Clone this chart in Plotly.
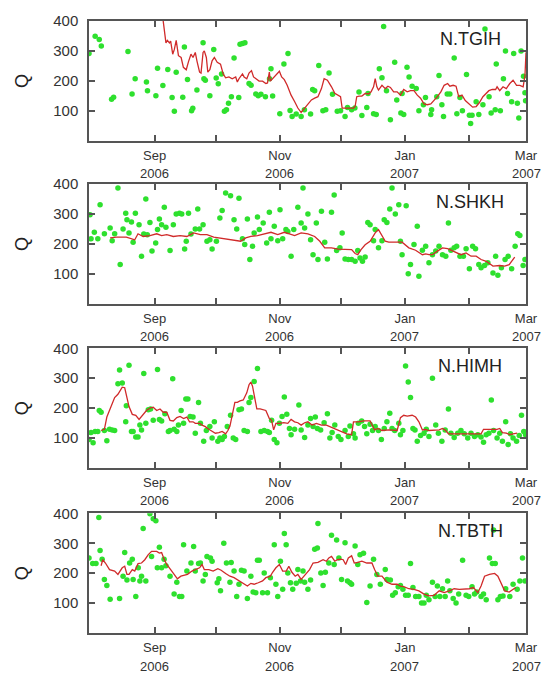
import pandas as pd
import plotly.graph_objects as go
from plotly.subplots import make_subplots

START = "2006-07-31"
END = "2007-03-01"
stations = ["N.TGIH", "N.SHKH", "N.HIMH", "N.TBTH"]

# ---------- panel 1: N.TGIH  (days since 2006-07-31, Q) ----------
d1 = [0, 3, 5, 6, 11, 12, 19, 21, 22.5, 28,
      28.5, 32.6, 33.4, 36, 38.4, 40.5, 41.6, 42.5, 45.7, 46.5,
      48, 50, 50.6, 52.6, 55.6, 56, 56.7, 58.9, 60.8, 62,
      63, 64.6, 66, 67, 68, 69.4, 70.7, 73, 73.6, 74.8,
      76, 78, 79, 81.3, 82.5, 83.8, 86, 88, 88.7, 89.5,
      93, 95, 97, 98, 99, 101, 103.4, 105, 108, 109,
      110, 112, 114, 115.4, 117, 118.7, 121, 122.6, 124.8, 126,
      128, 129.6, 131.6, 133, 135.4, 136, 138.7, 140, 141.5, 142.8,
      143.6, 145, 146.9, 149, 150, 152, 152.6, 153.4, 155, 156,
      157.5, 159.5, 160.8, 163, 164, 166.6, 167, 169.5, 170.6, 172,
      172.8, 174.6, 175.9, 178, 179.3, 180.8, 182, 184, 185.4, 186,
      186.7, 188.7, 190, 192, 193, 195, 196, 198, 198.5, 200.5,
      202, 203, 204, 206, 207, 208.8, 209.5, 210.6, 211.8, 212.5,
      212.8]
q1 = [291, 349, 338, 316, 138, 145, 298, 156, 207, 196,
      167, 150, 242, 184, 238, 144, 98, 229, 145, 313,
      204, 100, 108, 169, 327, 207, 202, 150, 305, 209,
      190, 223, 98, 103, 125, 147, 276, 144, 322, 325,
      327, 191, 185, 156, 150, 155, 147, 207, 240, 149,
      90, 256, 291, 101, 81, 89, 81, 103, 89, 171,
      167, 251, 100, 103, 226, 155, 98, 100, 81, 111,
      103, 109, 163, 84, 111, 158, 90, 87, 240, 210,
      382, 167, 70, 262, 136, 92, 158, 87, 245, 213,
      182, 174, 100, 120, 144, 87, 103, 147, 218, 120,
      81, 156, 156, 276, 90, 144, 100, 221, 85, 57,
      85, 130, 87, 120, 373, 147, 92, 103, 256, 100,
      207, 300, 158, 130, 291, 125, 76, 300, 215, 160,
      133]
L1d = [36, 37.5, 38.2, 39.2, 39.8, 40.8, 41.6, 42.5, 43.6, 44.9,
       46, 47.4, 48.5, 49.7, 50.7, 51.8, 52.6, 53.9, 54.6, 55.6,
       56.2, 57.2, 57.9, 58.9, 60, 61.1, 62.5, 64.1, 65.4, 66.6,
       68.2, 69.8, 71.5, 72.3, 73.1, 74.8, 75.6, 76.9, 78, 79.2,
       80.2, 81.3, 82.9, 84.6, 86.2, 87, 87.9, 88.4, 89.5, 91.1,
       92.8, 93.9, 95.2, 96.6, 98.5, 100.2, 101.8, 103.4, 105.1, 106.7,
       108.4, 110, 111.6, 113.3, 114.6, 116.2, 117.4, 118.2, 119.8, 121.5,
       122.6, 123.4, 124.8, 126.4, 128.9, 129.7, 130.5, 131.6, 133, 134.6,
       136.2, 137.5, 138.7, 139.5, 140.3, 141.1, 142.8, 144.4, 145.7, 146.9,
       148.5, 150.2, 151.8, 153.4, 155.1, 156.7, 158.4, 160, 161.6, 163.3,
       164.9, 166.6, 168.2, 169.8, 171.5, 173.1, 174.8, 175.9, 177.5, 178.9,
       180.2, 181.8, 183.4, 185.4, 187, 188.7, 190.3, 192, 193.6, 194.9,
       196.6, 198.2, 198.9, 200.2, 201.8, 203.4, 205.1, 206.7, 208.4, 210,
       211.6, 212.5, 213]
L1q = [409, 327, 335, 327, 333, 289, 305, 335, 284, 278,
       245, 237, 264, 289, 278, 295, 267, 229, 226, 295,
       300, 278, 229, 237, 267, 278, 262, 256, 223, 210,
       213, 207, 213, 196, 207, 223, 213, 207, 226, 234,
       213, 207, 199, 199, 191, 193, 229, 199, 207, 221,
       232, 213, 204, 185, 152, 131, 109, 94, 109, 123,
       136, 142, 147, 174, 207, 202, 191, 180, 158, 152,
       147, 109, 109, 109, 109, 114, 147, 149, 149, 158,
       156, 163, 180, 207, 180, 169, 185, 174, 182, 178,
       163, 163, 152, 171, 163, 167, 167, 152, 142, 123,
       120, 123, 134, 147, 163, 185, 191, 182, 185, 182,
       147, 152, 134, 120, 112, 114, 127, 147, 160, 167,
       171, 171, 180, 167, 180, 174, 191, 202, 185, 185,
       180, 218, 295]

# ---------- panel 2: N.SHKH ----------
d2 = [0.5, 1, 2.6, 4.3, 5.4, 7.5, 10.3, 11.3, 12.5, 14.1,
      15.2, 16.6, 17.9, 18.5, 19.5, 20.7, 21.5, 22.6, 24.4, 25.6,
      26.7, 27.7, 28.4, 29.7, 30.7, 32.5, 33.4, 34.3, 35.4, 36.7,
      37.5, 39.5, 41.1, 42.5, 44.1, 45.2, 46.6, 47.4, 48.5, 49.7,
      51.8, 53, 53.9, 55.6, 57.5, 58.9, 60, 62.1, 63.8, 64.9,
      66.6, 69, 70.7, 72, 73.1, 74.8, 75.9, 77.2, 78.4, 79.7,
      80.5, 82.1, 83, 84.9, 86.6, 87.9, 88.7, 90.3, 92, 93.1,
      94.4, 96, 96.9, 98.5, 99.8, 101.8, 103.4, 104.3, 105.1, 106.7,
      108, 109.2, 110.8, 111.6, 113.3, 114.9, 116.2, 118.2, 119.5, 120.7,
      122.3, 123.4, 124.8, 126.4, 128, 129.7, 131, 132.1, 133.3, 134.6,
      135.9, 137, 138.7, 139.5, 141.1, 142.8, 143.9, 145.2, 146.6, 147.7,
      149.3, 151, 151.8, 152.6, 154.6, 155.6, 156.7, 158.4, 160, 160.8,
      162.5, 164.1, 165.7, 167.4, 169, 170.6, 172.3, 173.9, 175.2, 176.4,
      178, 179.2, 180.8, 182.5, 183.8, 185.4, 187, 188.4, 190, 191.1,
      192.8, 194.4, 196.9, 198.2, 199.3, 201, 202.8, 204.3, 206, 207.7,
      209, 210, 211.6, 212.5]
q2 = [298, 217, 239, 217, 331, 234, 253, 211, 234, 387,
      131, 250, 303, 281, 237, 273, 206, 303, 264, 159,
      233, 350, 231, 272, 176, 203, 248, 283, 264, 323,
      256, 178, 264, 300, 303, 300, 183, 209, 303, 233,
      250, 317, 250, 264, 209, 214, 183, 209, 287, 312,
      370, 361, 281, 250, 353, 217, 198, 283, 148, 192,
      237, 290, 248, 270, 203, 306, 217, 259, 211, 314,
      217, 248, 242, 159, 248, 323, 270, 387, 253, 300,
      214, 164, 270, 148, 309, 206, 150, 306, 364, 178,
      187, 237, 150, 148, 148, 142, 178, 153, 142, 156,
      272, 264, 211, 248, 187, 211, 281, 272, 317, 387,
      300, 331, 209, 164, 328, 100, 131, 198, 259, 92,
      179, 192, 137, 164, 176, 192, 164, 159, 270, 179,
      187, 192, 159, 159, 184, 117, 192, 184, 131, 120,
      128, 137, 103, 159, 95, 120, 148, 159, 117, 192,
      234, 228, 128, 148]
L2d = [10.3, 13.3, 18.2, 22.3, 23.9, 26.4, 29.7, 33, 35.4, 37.9,
       41.1, 44.4, 47.7, 51, 54.3, 57.5, 60.8, 64.1, 69, 73.9,
       76.4, 78.9, 82.1, 85.4, 88.7, 92, 95.2, 97.7, 100.2, 103.4,
       106.7, 110, 112.5, 114.9, 118.2, 121.5, 124.8, 128, 129.7, 131,
       132.6, 134.6, 137, 139.5, 141.1, 142.8, 144.4, 146.1, 149.3, 152.6,
       155.9, 159.2, 162.5, 164.1, 165.7, 167.4, 169.8, 172.3, 174.8, 177.2,
       178.9, 181.3, 183.8, 186.2, 188.7, 191.1, 193.6, 196.9, 200.2, 202.6,
       204.8, 205.9, 207.5]
L2q = [220, 223, 223, 214, 234, 225, 228, 234, 228, 231,
       225, 228, 225, 237, 231, 231, 223, 220, 214, 209,
       220, 225, 228, 234, 239, 231, 239, 234, 228, 237,
       234, 225, 209, 187, 187, 183, 181, 181, 168, 164,
       181, 197, 209, 237, 248, 228, 209, 206, 206, 206,
       187, 179, 164, 167, 164, 164, 176, 187, 184, 176,
       173, 164, 170, 159, 159, 148, 142, 126, 128, 126,
       131, 142, 156]

# ---------- panel 3: N.HIMH ----------
d3 = [0, 1, 2, 3, 4.3, 5, 5.9, 7.5, 8.7, 10,
      11.3, 12.5, 14.1, 14.9, 16.2, 17.9, 18.2, 19.5, 20.7, 21.5,
      22.8, 23.9, 24.8, 25.6, 26.7, 27.7, 28.9, 30, 31.3, 33.4,
      34.3, 35.4, 37, 38.7, 39.5, 40.8, 41.5, 42.8, 43.6, 44.9,
      46.1, 47.2, 48.2, 49.3, 50.7, 51.8, 53.4, 54.3, 55.9, 57.2,
      58.9, 60, 61.1, 62.8, 63.8, 64.9, 66, 67.4, 69, 70.3,
      71.5, 73.1, 74.3, 75.6, 77.2, 78, 78.9, 80.5, 82.1, 83.8,
      85.4, 87, 87.9, 89, 90.3, 91.6, 92.8, 94.1, 95.2, 96.4,
      97.7, 98.5, 100.2, 102.3, 103.4, 105.1, 106.7, 108, 109.2, 110.3,
      111.3, 112.9, 114.6, 116.2, 117.4, 118.5, 119.8, 121.5, 122.8, 124.8,
      126.4, 127.2, 128.9, 129.7, 131.3, 132.9, 134.3, 135.4, 137, 138.2,
      139.5, 141.1, 142.5, 143.9, 145.2, 146.6, 147.7, 149, 151, 151.8,
      153, 154.3, 155.6, 156.7, 157.9, 158.9, 160, 161.6, 163.3, 164.4,
      165.7, 167.4, 169, 170.3, 172, 173.6, 175.2, 176.4, 178, 179.7,
      181.3, 182.9, 184.6, 186.2, 187.9, 189.5, 191.1, 192.3, 193.6, 194.9,
      196.1, 197.2, 198.9, 200.2, 201.5, 203.1, 204.3, 205.4, 206.7, 208.4,
      209.7, 210.8, 211.9, 212.8]
q3 = [95, 118, 84, 122, 122, 192, 186, 125, 91, 129,
      127, 125, 281, 327, 284, 154, 208, 343, 122, 122,
      103, 103, 143, 127, 316, 149, 194, 197, 159, 329,
      162, 157, 181, 122, 125, 298, 129, 122, 143, 192,
      149, 230, 230, 172, 170, 116, 219, 149, 89, 125,
      138, 100, 154, 89, 100, 95, 105, 138, 176, 100,
      95, 194, 197, 125, 122, 219, 235, 289, 332, 122,
      125, 122, 118, 159, 95, 84, 149, 172, 237, 179,
      132, 111, 129, 210, 127, 102, 143, 165, 138, 170,
      132, 127, 151, 181, 100, 118, 143, 105, 95, 125,
      105, 140, 114, 100, 149, 157, 138, 114, 146, 125,
      138, 125, 95, 132, 154, 183, 132, 125, 149, 111,
      125, 341, 287, 235, 132, 127, 89, 108, 116, 129,
      105, 300, 143, 116, 89, 127, 197, 116, 102, 116,
      125, 114, 100, 116, 105, 111, 103, 86, 111, 116,
      227, 125, 100, 116, 89, 154, 78, 114, 100, 89,
      108, 176, 122, 111]
L3d = [5.9, 7.5, 8.7, 10.8, 12.5, 14.1, 14.9, 16.2, 17.4, 18.2,
       19.5, 21.1, 22.8, 24.4, 26.1, 28, 29.7, 31.3, 33, 34.6,
       36.2, 37.9, 39.5, 41.1, 42.8, 44.4, 46.1, 47.7, 49, 50.7,
       51.8, 53.9, 55.1, 56.7, 58.4, 60, 61.6, 63.3, 64.9, 66.6,
       67.7, 68.7, 69.8, 71.1, 72.3, 73.6, 75.2, 76.9, 78, 78.9,
       79.7, 80.8, 81.8, 83.4, 85.1, 86.2, 87.9, 89, 90, 91.1,
       92.8, 94.9, 96.9, 98.5, 100.2, 101.8, 103.4, 105.1, 106.7, 108.7,
       110.8, 113.3, 115.7, 118.2, 120.7, 123.1, 125.6, 128, 128.9, 131.3,
       133.8, 137, 139.2, 140.8, 142.8, 146.1, 148.5, 150.2, 151.8, 153.4,
       155.1, 157.5, 159.2, 160.8, 162.5, 164.1, 165.7, 168.2, 170.7, 172.3,
       173.9, 175.2, 177.2, 179.7, 182.1, 185.4, 188.7, 191.1, 192.3, 194.4,
       196.9, 198.9, 200.2, 201.5, 203.4, 205.1, 206.7, 208.7]
L3q = [125, 129, 170, 208, 235, 246, 257, 270, 268, 246,
       205, 179, 176, 162, 176, 192, 200, 203, 192, 197,
       186, 186, 159, 157, 168, 172, 165, 170, 154, 154,
       149, 149, 143, 138, 129, 122, 116, 118, 122, 114,
       125, 140, 176, 219, 219, 224, 227, 251, 278, 287,
       273, 235, 197, 197, 194, 192, 165, 159, 127, 149,
       149, 151, 149, 162, 154, 151, 143, 151, 154, 143,
       149, 143, 143, 136, 127, 122, 114, 111, 154, 154,
       157, 157, 127, 132, 125, 127, 125, 125, 168, 176,
       173, 176, 170, 154, 127, 129, 125, 127, 127, 132,
       125, 114, 114, 116, 116, 116, 114, 114, 129, 129,
       129, 129, 132, 118, 116, 111, 114, 116]

# ---------- panel 4: N.TBTH ----------
d4 = [0, 1.8, 3.4, 4.8, 5.4, 6.4, 7.5, 8.7, 10.3, 14.9,
      16.6, 17.4, 18.5, 19.8, 21.1, 21.5, 22.8, 24, 24.8, 25.6,
      26.4, 27.7, 29.7, 30.5, 31.3, 32.6, 33.3, 34.3, 35.4, 36.6,
      37.5, 39.5, 41.5, 42.8, 44.1, 45.2, 46.1, 47.7, 49.7, 51,
      51.8, 53.4, 54.3, 55.6, 56.7, 57.5, 59.2, 60, 62.5, 63.3,
      64.1, 65.7, 67, 68.7, 69.3, 70.7, 72, 73.1, 74.3, 75.6,
      77.2, 78.9, 80, 81.3, 82.1, 83, 84.6, 85.4, 87, 88.4,
      90.3, 91.1, 92, 93.3, 94.4, 95.2, 96.1, 96.9, 98.2, 99.3,
      101, 101.8, 103.1, 104.3, 105.1, 106.7, 108, 110, 111.3, 111.6,
      113, 114.1, 115.2, 116.9, 118.2, 119.5, 120.7, 121.8, 123.1, 124.8,
      126, 127.2, 128, 129.7, 131, 132.1, 133.8, 135.4, 137, 138.7,
      140.3, 142, 144.4, 145.2, 146.9, 148, 149.3, 150.7, 151.8, 153,
      154.3, 155.6, 156.7, 157.9, 159.2, 160.8, 162.1, 163.3, 164.4, 165.7,
      167.4, 168.7, 169.8, 171, 172.3, 173.6, 174.8, 175.9, 177.5, 178.9,
      180.2, 182.1, 183.8, 185.1, 186.7, 187.9, 189, 191.1, 192.3, 193.6,
      195.2, 196.6, 197.2, 198, 199.3, 200.5, 201.8, 203.1, 205.1, 206.7,
      208.7, 210, 211.3, 212.5]
q4 = [251, 232, 232, 386, 276, 247, 179, 159, 113, 115,
      190, 269, 177, 234, 247, 179, 122, 218, 174, 190,
      349, 174, 399, 256, 382, 375, 218, 287, 218, 247,
      225, 190, 130, 170, 122, 122, 295, 207, 234, 289,
      207, 232, 234, 174, 196, 256, 251, 240, 168, 181,
      141, 300, 234, 170, 236, 207, 122, 163, 210, 207,
      115, 190, 137, 135, 243, 243, 135, 201, 135, 185,
      295, 163, 122, 240, 146, 333, 295, 201, 168, 146,
      166, 212, 174, 207, 170, 146, 177, 280, 284, 366,
      201, 159, 203, 234, 327, 229, 311, 251, 179, 302,
      174, 168, 163, 291, 229, 262, 267, 102, 157, 247,
      196, 163, 212, 179, 177, 126, 135, 155, 159, 146,
      126, 126, 232, 152, 122, 122, 100, 100, 126, 111,
      170, 122, 157, 122, 148, 122, 174, 141, 115, 100,
      130, 243, 126, 122, 155, 130, 137, 122, 130, 111,
      251, 232, 344, 232, 111, 122, 124, 148, 122, 163,
      146, 174, 251, 174]
L4d = [5.9, 6.7, 8, 10, 12.5, 14.1, 16.2, 17.4, 18.5, 19.5,
       21.1, 22.3, 23.9, 25.6, 27.2, 28.9, 30.5, 33, 34.3, 35.4,
       36.6, 37.9, 39.8, 41.5, 43.1, 44.8, 46.4, 48, 50.2, 52.3,
       53.9, 55.1, 56.2, 58.4, 60.5, 62.8, 64.4, 66.6, 68.7, 70.7,
       73.1, 75.2, 77.2, 78.9, 80.5, 82.5, 84.6, 86.2, 88.4, 89.5,
       91.1, 92.8, 94.4, 96.1, 97.4, 98.9, 100.5, 101.8, 103.4, 104.8,
       105.9, 107.5, 109.2, 111.6, 114.1, 115.7, 116.9, 118.2, 119.8, 121.1,
       122.8, 123.9, 125.1, 126.4, 128, 129.3, 131, 133, 135.4, 137.9,
       139.2, 140.8, 142.8, 145.2, 147.7, 150.2, 151.8, 153.4, 155.9, 158.4,
       160.8, 163.3, 165.7, 168.2, 170.7, 173.1, 175.6, 178, 180.5, 183,
       185.4, 187.4, 189.5, 191.1, 192.8, 195.2, 197.7, 199.3, 201, 202.6,
       204.8, 206.4, 208]
L4q = [225, 245, 234, 212, 207, 196, 218, 223, 196, 196,
       212, 207, 232, 234, 245, 262, 273, 273, 267, 269,
       247, 229, 212, 196, 181, 190, 192, 196, 207, 212,
       218, 229, 212, 212, 207, 215, 210, 199, 190, 185,
       174, 166, 157, 166, 163, 168, 174, 185, 190, 203,
       218, 229, 207, 207, 223, 203, 190, 196, 179, 190,
       199, 212, 234, 236, 245, 240, 251, 256, 240, 245,
       247, 245, 229, 251, 258, 234, 236, 240, 234, 234,
       212, 190, 190, 170, 163, 163, 157, 155, 148, 146,
       141, 130, 124, 126, 141, 135, 141, 148, 146, 146,
       148, 152, 135, 157, 190, 196, 199, 190, 163, 141,
       137, 146, 152]

tick_dates = ["2006-09-01", "2006-10-01", "2006-11-01", "2006-12-01",
              "2007-01-01", "2007-02-01", "2007-03-01"]
tick_months = ["Sep", "", "Nov", "", "Jan", "", "Mar"]
tick_years = ["2006", "", "2006", "", "2007", "", "2007"]
y_ticks = [100, 200, 300, 400]

panels = [(d1, q1, L1d, L1q), (d2, q2, L2d, L2q),
          (d3, q3, L3d, L3q), (d4, q4, L4d, L4q)]

t0 = pd.Timestamp(START)


def to_dates(days):
    return t0 + pd.to_timedelta(pd.Series(days, dtype=float), unit="D")


FONT = "Liberation Sans, Arial, Helvetica, sans-serif"
TXT = "#333333"
FRAME = "#555555"
GREEN = "#2ee02e"
RED = "#d02a2a"

fig = make_subplots(rows=4, cols=1)

for i, (dp, qp, dl, ql) in enumerate(panels, start=1):
    fig.add_trace(go.Scatter(x=to_dates(dp), y=qp, mode="markers",
                             marker=dict(color=GREEN, size=5.5, line=dict(width=0)),
                             showlegend=False), row=i, col=1)
    fig.add_trace(go.Scatter(x=to_dates(dl), y=ql, mode="lines",
                             line=dict(color=RED, width=1.3),
                             showlegend=False), row=i, col=1)

# layout geometry
W, H = 552, 673
ml, mr, mt, mb = 89, 26, 14, 40
ph = H - mt - mb
tops = [14, 179, 345, 512]
pheight = 121
axis_common = dict(showgrid=False, zeroline=False, showline=True,
                   linecolor=FRAME, linewidth=1.5, mirror="ticks",
                   ticks="inside", ticklen=6, tickwidth=1.5, tickcolor=FRAME)

for i in range(1, 5):
    top = tops[i - 1]
    bottom = top + pheight
    dom = [(H - mb - bottom) / ph, (H - mb - top) / ph]
    xa = "xaxis" if i == 1 else f"xaxis{i}"
    ya = "yaxis" if i == 1 else f"yaxis{i}"
    fig.layout[xa].update(range=[START, END], tickmode="array",
                          tickvals=tick_dates, ticktext=tick_months,
                          tickfont=dict(family=FONT, size=13, color=TXT),
                          ticklabelstandoff=2, **axis_common)
    fig.layout[ya].update(domain=dom, range=[0, 400], tickmode="array",
                          tickvals=y_ticks,
                          tickfont=dict(family=FONT, size=15, color=TXT),
                          ticklabelstandoff=6, **axis_common)
    xr = "x" if i == 1 else f"x{i}"
    yr = "y" if i == 1 else f"y{i}"
    # station label
    fig.add_annotation(text=stations[i - 1], xref=f"{xr} domain", yref=f"{yr} domain",
                       x=0.872, y=0.85, showarrow=False, xanchor="center", yanchor="middle",
                       font=dict(family=FONT, size=18, color="#222222"))
    # axis title Q
    fig.add_annotation(text="Q", xref="paper", yref=f"{yr} domain",
                       x=-0.153, y=0.5, showarrow=False, textangle=-90,
                       xanchor="center", yanchor="middle",
                       font=dict(family=FONT, size=18, color="#222222"))
    # year line under month tick labels
    for td, yy in zip(tick_dates, tick_years):
        if yy:
            fig.add_annotation(text=yy, xref=xr, yref=f"{yr} domain",
                               x=td, y=0, yshift=-33, showarrow=False,
                               xanchor="center", yanchor="middle",
                               font=dict(family=FONT, size=13, color=TXT))

fig.update_layout(width=W, height=H, margin=dict(l=ml, r=mr, t=mt, b=mb),
                  paper_bgcolor="white", plot_bgcolor="white",
                  font=dict(family=FONT, color=TXT))

fig.write_html("out.html", config={"displayModeBar": False},
               post_script="document.body.style.margin='0px';"
                           "document.body.style.overflow='hidden';")
